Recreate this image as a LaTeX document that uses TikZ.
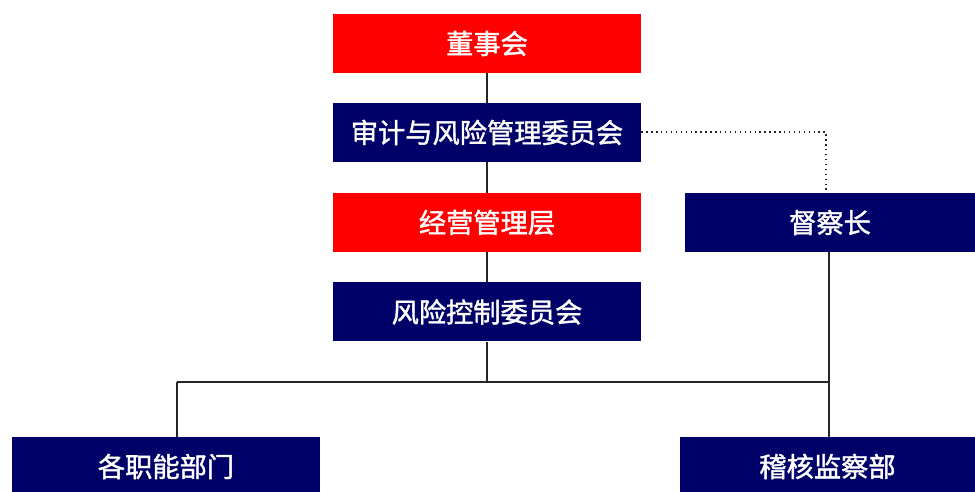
\documentclass[tikz,border=0pt]{standalone}
\usepackage{fontspec}
\newfontfamily\cjk[AutoFakeBold=1.5]{Noto Sans CJK SC}
\definecolor{boxred}{RGB}{255,0,0}
\definecolor{boxnavy}{RGB}{0,0,105}
\tikzset{
  redbox/.style={fill=boxred, text=white, minimum width=6.16cm, minimum height=1.18cm, inner sep=0pt, font=\cjk\bfseries\fontsize{15.5}{17}\selectfont},
  navybox/.style={redbox, fill=boxnavy},
  link/.style={draw=black!85, line width=0.8pt},
}
\begin{document}
\begin{tikzpicture}
			\useasboundingbox (0,0) rectangle (19.5,9.84);
			\begin{scope}
			\clip (0,0) rectangle (19.5,9.84);
			\node[redbox] (dsh) at (9.74, 8.97) {董事会};
			\node[navybox] (sjw) at (9.74, 7.19) {审计与风险管理委员会};
			\node[redbox] (jyc) at (9.74, 5.39) {经营管理层};
			\node[navybox] (fkw) at (9.74, 3.6) {风险控制委员会};
			\node[navybox, minimum width=5.8cm] (dcz) at (16.6, 5.39) {督察长};
			\node[navybox] (znb) at (3.32, 0.51) {各职能部门};
			\node[navybox, minimum width=5.9cm] (jhb) at (16.55, 0.51) {稽核监察部};
			\end{scope}

			\coordinate (busl) at (3.54, 2.2);
			\coordinate (busr) at (16.58, 2.2);
			\coordinate (dot) at (16.52, 7.2);
			\draw[link] (dsh) -- (sjw);
			\draw[link] (sjw) -- (jyc);
			\draw[link] (jyc) -- (fkw);
			\draw[link] (fkw) -- (fkw.south |- busl);
			\draw[link] (busl) -- (busr);
			\draw[link] (busl) -- (busl |- znb.north);
			\draw[link] (dcz.south -| busr) -- (busr |- jhb.north);
			\draw[link, dotted] (sjw.east |- dot) -- (dot) -- (dot |- dcz.north);
		\end{tikzpicture}
\end{document}
